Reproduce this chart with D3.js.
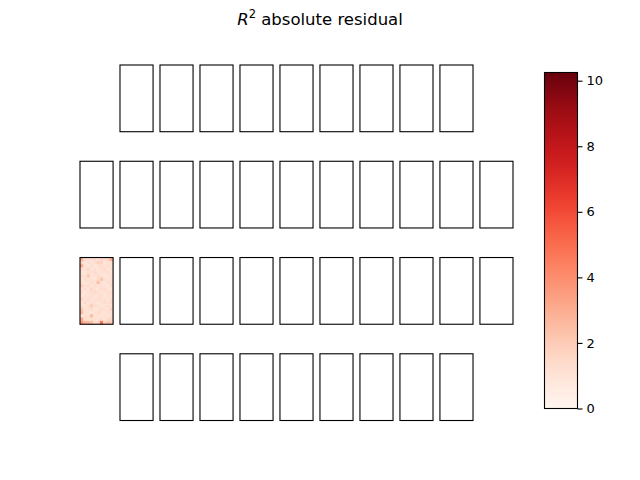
<!DOCTYPE html>
<html><head><meta charset="utf-8">
<script src="https://cdn.jsdelivr.net/npm/d3@7"></script>
<style>body{margin:0;background:#fff}svg{display:block}text{font-family:"DejaVu Sans",sans-serif}</style>
</head><body>
<script>
const title = "absolute residual";
const gridRows = [
  [1,2,3,4,5,6,7,8,9],
  [0,1,2,3,4,5,6,7,8,9,10],
  [0,1,2,3,4,5,6,7,8,9,10],
  [1,2,3,4,5,6,7,8,9]
];
const heatPanel = {row: 2, col: 0};
const heatValues = [
  [2.9,1.3,1.1,1.2,1.4,1.0,1.5,1.3,1.7,3.0],
  [1.6,1.0,1.2,0.9,1.3,1.7,1.6,1.0,1.1,1.2],
  [3.1,1.1,0.9,1.3,1.0,1.2,1.4,1.1,1.3,1.0],
  [1.3,1.2,1.5,1.0,1.1,0.9,1.2,1.4,1.0,1.1],
  [1.1,0.9,1.3,1.2,1.4,1.1,1.0,1.2,1.3,0.9],
  [1.4,1.1,2.1,1.0,1.2,1.3,1.1,0.9,1.1,1.2],
  [1.0,1.3,1.2,1.1,0.9,1.4,2.1,1.2,1.0,1.1],
  [1.2,1.0,1.1,1.3,1.2,2.4,1.1,1.0,1.3,1.2],
  [1.9,1.1,1.4,1.0,1.3,1.1,1.2,1.1,0.9,1.4],
  [1.1,1.3,1.0,1.6,1.1,1.0,1.3,1.4,1.1,1.0],
  [1.3,0.9,1.2,1.1,1.5,1.2,1.0,1.1,1.2,1.3],
  [1.0,1.2,1.1,1.3,1.0,1.1,1.4,0.9,1.3,1.1],
  [1.6,1.1,1.3,1.0,1.2,1.3,1.1,1.2,1.0,1.2],
  [1.1,1.4,1.0,1.2,1.1,0.9,1.2,1.3,1.1,1.5],
  [1.2,1.0,1.3,2.0,1.3,1.2,1.0,1.1,1.4,1.1],
  [2.1,1.1,1.2,1.4,1.0,1.1,1.3,1.2,1.1,1.7],
  [2.5,1.2,1.1,1.0,1.2,1.4,1.1,1.0,1.2,1.1],
  [1.1,1.3,1.2,2.5,1.1,1.2,1.0,1.3,1.1,1.2],
  [3.1,1.4,1.1,1.3,1.2,1.1,1.3,1.1,1.4,1.6],
  [3.7,2.8,2.6,2.4,1.3,1.5,4.8,1.6,2.2,2.0]
];
const colorMin = 0, colorMax = 10.25;
const cbTicks = [0,2,4,6,8,10];

const W = 640, H = 480;
const svg = d3.select("body").append("svg").attr("width", W).attr("height", H);

const t = svg.append("text").attr("x", 320).attr("y", 25).attr("text-anchor","middle").attr("font-size", 16.5);
t.append("tspan").attr("font-style","italic").text("R");
t.append("tspan").attr("font-size", 11.5).attr("dy", -7).text("2");
t.append("tspan").attr("dy", 7).text(" " + title);

const xCol = d3.scaleBand().domain(d3.range(11)).range([80, 513]).paddingInner(0.173).paddingOuter(0);
const yRow = d3.scaleBand().domain(d3.range(4)).range([65, 420.5]).paddingInner(0.307).paddingOuter(0);
const color = d3.scaleSequential(d3.interpolateReds).domain([colorMin, colorMax]);

const panels = [];
gridRows.forEach((cols, r) => cols.forEach(c => panels.push({r, c})));

// heatmap
const hp = svg.append("g").attr("transform", `translate(${xCol(heatPanel.col)},${yRow(heatPanel.row)})`);
const hx = d3.scaleBand().domain(d3.range(heatValues[0].length)).range([0, xCol.bandwidth()]);
const hy = d3.scaleBand().domain(d3.range(heatValues.length)).range([0, yRow.bandwidth()]);
heatValues.forEach((row, i) => row.forEach((v, j) => {
  hp.append("rect").attr("x", hx(j)).attr("y", hy(i)).attr("width", hx.bandwidth()+0.3).attr("height", hy.bandwidth()+0.3)
    .attr("fill", color(v));
}));

svg.selectAll("rect.frame").data(panels).enter().append("rect").attr("class","frame")
  .attr("x", d => xCol(d.c)).attr("y", d => yRow(d.r))
  .attr("width", xCol.bandwidth()).attr("height", yRow.bandwidth())
  .attr("fill","none").attr("stroke","#000").attr("stroke-width",1.1);

// colorbar
const cbX = 544.5, cbW = 33, cbTop = 72.5, cbBot = 408.5;
const defs = svg.append("defs");
const grad = defs.append("linearGradient").attr("id","cbg").attr("x1",0).attr("y1",1).attr("x2",0).attr("y2",0);
d3.range(0, 1.0001, 0.02).forEach(f => grad.append("stop").attr("offset", f).attr("stop-color", d3.interpolateReds(f)));
svg.append("rect").attr("x", cbX).attr("y", cbTop).attr("width", cbW).attr("height", cbBot-cbTop).attr("fill","url(#cbg)");
svg.append("rect").attr("x", cbX).attr("y", cbTop).attr("width", cbW).attr("height", cbBot-cbTop).attr("fill","none").attr("stroke","#000").attr("stroke-width",1.1);
const cbScale = d3.scaleLinear().domain([colorMin, colorMax]).range([cbBot, cbTop]);
const axis = d3.axisRight(cbScale).tickValues(cbTicks).tickSize(5).tickPadding(4).tickFormat(d3.format("d"));
const ag = svg.append("g").attr("transform", `translate(${cbX+cbW},0)`).call(axis);
ag.select(".domain").remove();
ag.selectAll("text").attr("font-size", 13).attr("font-family","DejaVu Sans").attr("fill","#000");
ag.selectAll("line").attr("stroke","#000").attr("stroke-width",1.1);
</script>
</body></html>
